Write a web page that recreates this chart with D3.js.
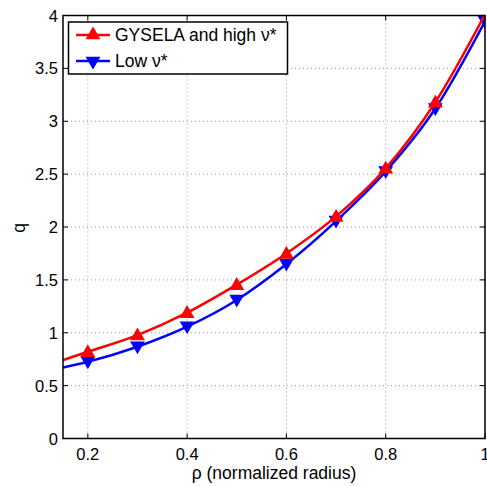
<!DOCTYPE html>
<html><head><meta charset="utf-8">
<script src="https://cdn.jsdelivr.net/npm/d3@7"></script>
<style>body{margin:0;background:#fff}svg{display:block}text{font-family:"Liberation Sans",Arial,sans-serif}</style>
</head><body>
<svg id="c" width="487" height="486"></svg>
<script>
// Curve samples (rho, q)
const curveX = [0.15, 0.2, 0.3, 0.4, 0.5, 0.6, 0.7, 0.8, 0.9, 1.0];
const gyselaQ = [0.742, 0.82, 0.978, 1.19, 1.455, 1.75, 2.10, 2.555, 3.18, 4.01];
const lowQ = [0.672, 0.726, 0.868, 1.057, 1.31, 1.65, 2.056, 2.525, 3.12, 3.945];
// Marker positions per series
const gyselaMarkerX = [0.2, 0.3, 0.4, 0.5, 0.6, 0.7, 0.8, 0.9];
const lowMarkerX = [0.2, 0.3, 0.4, 0.5, 0.6, 0.7, 0.8, 0.9, 1.0];
const xTicks = [0.2, 0.4, 0.6, 0.8, 1];
const xTickLabels = ["0.2", "0.4", "0.6", "0.8", "1"];
const yTicks = [0, 0.5, 1, 1.5, 2, 2.5, 3, 3.5, 4];
const yTickLabels = ["0", "0.5", "1", "1.5", "2", "2.5", "3", "3.5", "4"];
const seriesNames = ["GYSELA and high \u03BD*", "Low \u03BD*"];
const seriesColors = ["#ff0000", "#0000ff"];
const xLabel = "\u03C1 (normalized radius)";
const yLabel = "q";

const svg = d3.select("#c");
const L = 63, R = 485, T = 15.5, B = 438.5;
const x = d3.scaleLinear().domain([0.15, 1]).range([L, R]);
const y = d3.scaleLinear().domain([0, 4]).range([B, T]);

// grid
const grid = svg.append("g").attr("stroke", "#999").attr("stroke-width", 1).attr("stroke-dasharray", "1,3");
xTicks.forEach(t => grid.append("line").attr("x1", x(t)).attr("x2", x(t)).attr("y1", T).attr("y2", B));
yTicks.forEach(t => grid.append("line").attr("x1", L).attr("x2", R).attr("y1", y(t)).attr("y2", y(t)));

svg.append("defs").append("clipPath").attr("id", "clip").append("rect")
  .attr("x", L).attr("y", T).attr("width", R - L).attr("height", B - T);

const plot = svg.append("g").attr("clip-path", "url(#clip)");
const line = d3.line().x(d => x(d[0])).y(d => y(d[1])).curve(d3.curveMonotoneX);
const seriesData = [gyselaQ, lowQ];
const seriesMarkers = [gyselaMarkerX, lowMarkerX];
const tri = d3.symbol().type(d3.symbolTriangle).size(70);

[1, 0].forEach(i => {
  const pts = curveX.map((v, k) => [v, seriesData[i][k]]);
  plot.append("path").datum(pts).attr("d", line).attr("fill", "none")
    .attr("stroke", seriesColors[i]).attr("stroke-width", 2.5);
  const mk = seriesMarkers[i].map(v => [v, seriesData[i][curveX.indexOf(v)]]);
  plot.selectAll(null).data(mk).enter().append("path")
    .attr("d", tri)
    .attr("transform", d => `translate(${x(d[0])},${y(d[1]) + (i === 0 ? 1 : -1)}) rotate(${i === 0 ? 0 : 180})`)
    .attr("fill", seriesColors[i]).attr("stroke", seriesColors[i]).attr("stroke-width", 1.2);
});

// axes box
const ax = svg.append("g").attr("stroke", "#000").attr("fill", "none");
ax.append("rect").attr("x", L).attr("y", T).attr("width", R - L).attr("height", B - T).attr("stroke-width", 1.5);
xTicks.forEach(t => {
  ax.append("line").attr("x1", x(t)).attr("x2", x(t)).attr("y1", B).attr("y2", B - 5).attr("stroke-width", 1);
  ax.append("line").attr("x1", x(t)).attr("x2", x(t)).attr("y1", T).attr("y2", T + 5).attr("stroke-width", 1);
});
yTicks.forEach(t => {
  ax.append("line").attr("x1", L).attr("x2", L + 5).attr("y1", y(t)).attr("y2", y(t)).attr("stroke-width", 1);
  ax.append("line").attr("x1", R).attr("x2", R - 5).attr("y1", y(t)).attr("y2", y(t)).attr("stroke-width", 1);
});

// tick labels
const lab = svg.append("g").attr("font-size", 16.5).attr("fill", "#000");
xTicks.forEach((t, k) => lab.append("text").attr("x", x(t)).attr("y", B + 21).attr("text-anchor", "middle").text(xTickLabels[k]));
yTicks.forEach((t, k) => lab.append("text").attr("x", L - 5).attr("y", y(t) + 6).attr("text-anchor", "end").text(yTickLabels[k]));

svg.append("text").attr("x", (L + R) / 2).attr("y", 479).attr("text-anchor", "middle").attr("font-size", 17.5).text(xLabel);
svg.append("text").attr("transform", `translate(25,228) rotate(-90)`).attr("text-anchor", "middle").attr("font-size", 17.5).text(yLabel);

// legend
const lg = svg.append("g");
lg.append("rect").attr("x", 68.5).attr("y", 22).attr("width", 219).attr("height", 52)
  .attr("fill", "#fff").attr("stroke", "#000").attr("stroke-width", 1.5);
seriesNames.forEach((n, i) => {
  const yy = 35 + i * 26;
  lg.append("line").attr("x1", 76).attr("x2", 110).attr("y1", yy).attr("y2", yy)
    .attr("stroke", seriesColors[i]).attr("stroke-width", 2.5);
  lg.append("path").attr("d", tri)
    .attr("transform", `translate(93,${yy}) rotate(${i === 0 ? 0 : 180})`)
    .attr("fill", seriesColors[i]).attr("stroke", seriesColors[i]).attr("stroke-width", 1.2);
  lg.append("text").attr("x", 115).attr("y", yy + 6).attr("font-size", 17.5).text(n);
});
</script>
</body></html>
